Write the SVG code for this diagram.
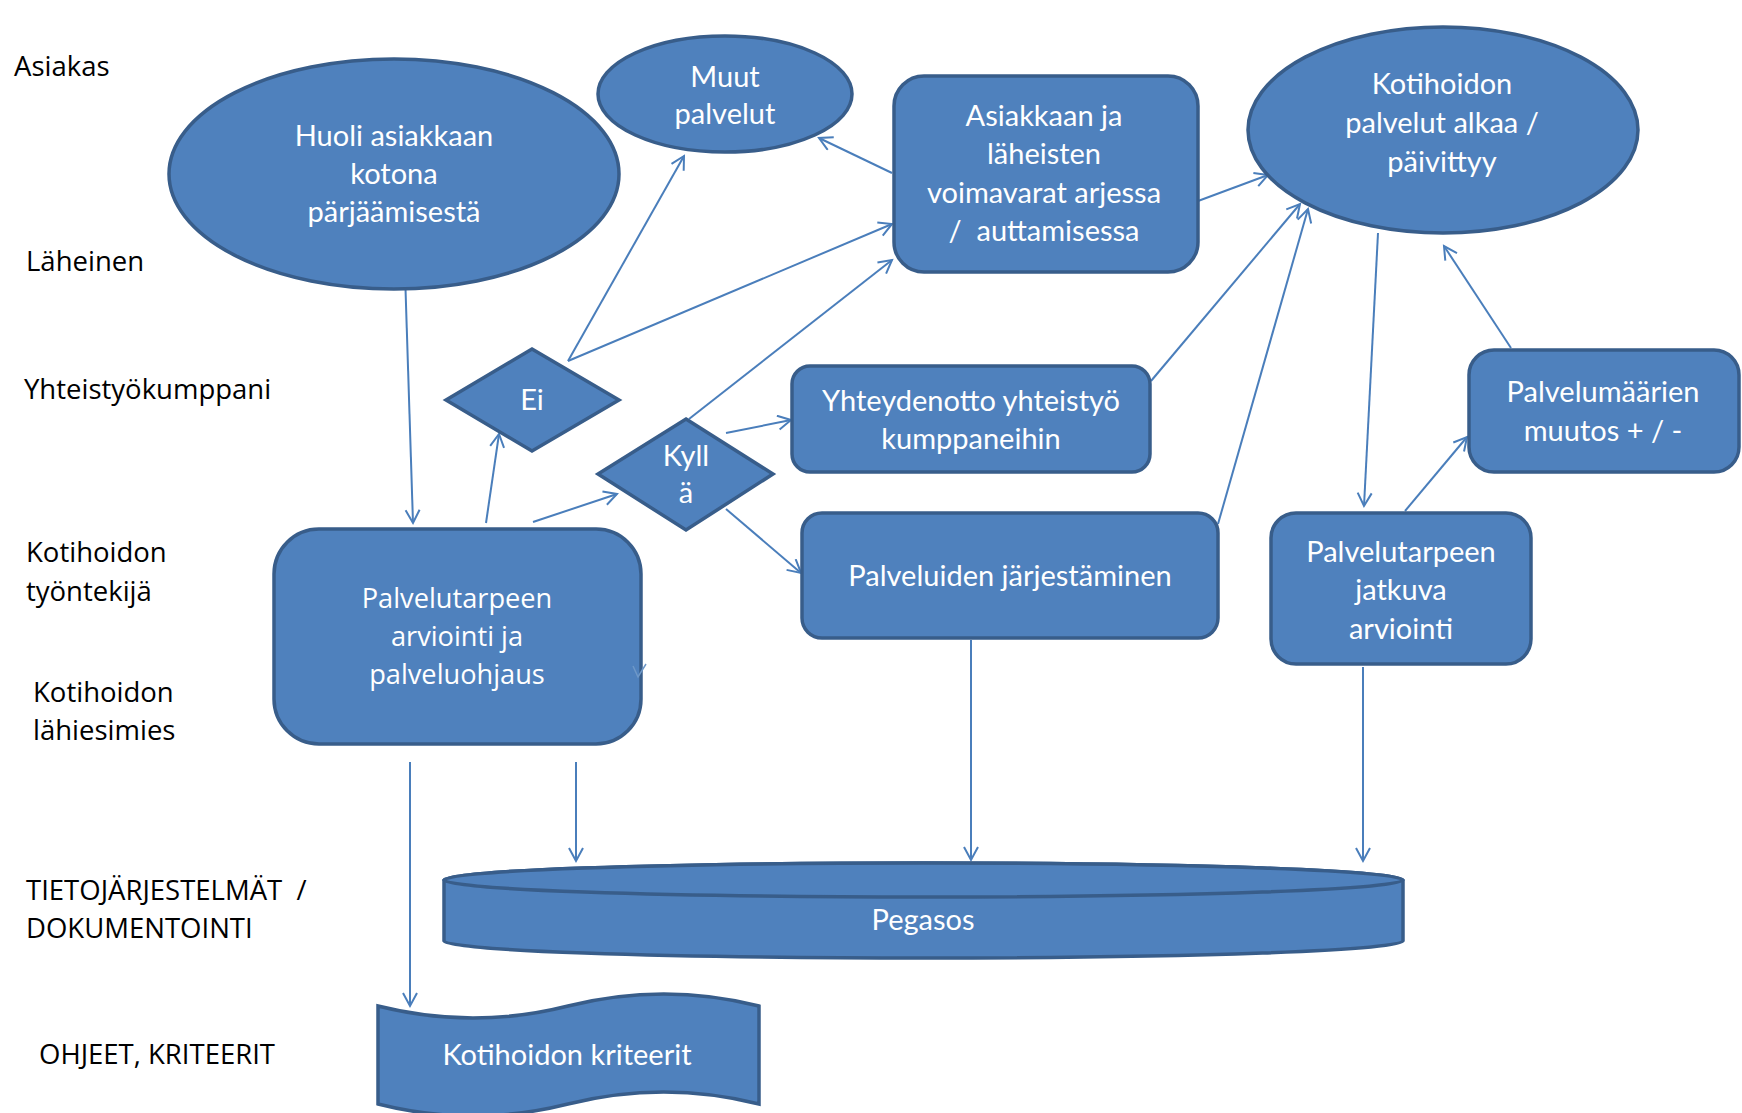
<svg xmlns="http://www.w3.org/2000/svg" width="1742" height="1113" viewBox="0 0 1742 1113">
<style>
.shape{fill:#4F81BD;stroke:#385D8A;stroke-width:3.5}
.lbl{font-family:"Open Sans","DejaVu Sans",sans-serif;font-size:27.5px;fill:#000;white-space:pre}
.nt{font-family:Lato,"Liberation Sans",sans-serif;font-size:29px;fill:#fff;text-anchor:middle}
.nt2{font-family:"Open Sans","DejaVu Sans",sans-serif;font-size:27.2px;fill:#fff;text-anchor:middle}
.conn{stroke:#4A7EBB;stroke-width:2;fill:none}
</style>
<defs>
<marker id="arr" markerUnits="userSpaceOnUse" markerWidth="18" markerHeight="18" refX="15" refY="8" orient="auto">
<path d="M2,1 L15,8 L2,15" fill="none" stroke="#4A7EBB" stroke-width="2"/>
</marker>
</defs>
<rect width="1742" height="1113" fill="#fff"/>
<g id="lane-labels">
<text class="lbl" x="14" y="76">Asiakas</text>
<text class="lbl" x="26" y="271">Läheinen</text>
<text class="lbl" x="24" y="399">Yhteistyökumppani</text>
<text class="lbl" x="26" y="562">Kotihoidon</text>
<text class="lbl" x="26" y="601">työntekijä</text>
<text class="lbl" x="33" y="702">Kotihoidon</text>
<text class="lbl" x="33" y="740">lähiesimies</text>
<text class="lbl" x="26" y="900">TIETOJÄRJESTELMÄT  /</text>
<text class="lbl" x="26" y="938">DOKUMENTOINTI</text>
<text class="lbl" x="39" y="1064">OHJEET, KRITEERIT</text>
</g>
<g id="connectors">
<line class="conn" x1="404" y1="242" x2="413" y2="523" marker-end="url(#arr)"/>
<line class="conn" x1="486" y1="523" x2="499" y2="434" marker-end="url(#arr)"/>
<line class="conn" x1="568" y1="361" x2="684" y2="156" marker-end="url(#arr)"/>
<line class="conn" x1="568" y1="361" x2="892" y2="224" marker-end="url(#arr)"/>
<line class="conn" x1="533" y1="522" x2="617" y2="494" marker-end="url(#arr)"/>
<line class="conn" x1="689" y1="419" x2="892" y2="260" marker-end="url(#arr)"/>
<line class="conn" x1="726" y1="433" x2="791" y2="420" marker-end="url(#arr)"/>
<line class="conn" x1="726" y1="509" x2="801" y2="573" marker-end="url(#arr)"/>
<line class="conn" x1="892" y1="173" x2="819" y2="138" marker-end="url(#arr)"/>
<line class="conn" x1="1198" y1="201" x2="1268" y2="175" marker-end="url(#arr)"/>
<line class="conn" x1="1151" y1="381" x2="1300" y2="204" marker-end="url(#arr)"/>
<line class="conn" x1="1218" y1="524" x2="1308" y2="209" marker-end="url(#arr)"/>
<line class="conn" x1="1378" y1="233" x2="1364" y2="506" marker-end="url(#arr)"/>
<line class="conn" x1="1511" y1="348" x2="1444" y2="246" marker-end="url(#arr)"/>
<line class="conn" x1="1405" y1="511" x2="1467" y2="437" marker-end="url(#arr)"/>
<line class="conn" x1="971" y1="640" x2="971" y2="860" marker-end="url(#arr)"/>
<line class="conn" x1="1363" y1="667" x2="1363" y2="861" marker-end="url(#arr)"/>
<line class="conn" x1="576" y1="762" x2="576" y2="861" marker-end="url(#arr)"/>
<line class="conn" x1="410" y1="762" x2="410" y2="1006" marker-end="url(#arr)"/>
</g>
<g id="huoli">
<ellipse class="shape" cx="394" cy="174" rx="225" ry="115"/>
<text class="nt" x="394" y="146">Huoli asiakkaan</text>
<text class="nt" x="394" y="184">kotona</text>
<text class="nt" x="394" y="222">pärjäämisestä</text>
</g>
<g id="muut">
<ellipse class="shape" cx="725" cy="94" rx="127" ry="58"/>
<text class="nt" x="725" y="87">Muut</text>
<text class="nt" x="725" y="124">palvelut</text>
</g>
<g id="asiakkaan">
<rect class="shape" x="894" y="76" width="304" height="196" rx="30"/>
<text class="nt" x="1044" y="126">Asiakkaan ja</text>
<text class="nt" x="1044" y="164">läheisten</text>
<text class="nt" x="1044" y="203">voimavarat arjessa</text>
<text class="nt" x="1044" y="241" style="white-space:pre">/  auttamisessa</text>
</g>
<g id="kotihoidon-alkaa">
<ellipse class="shape" cx="1443" cy="130" rx="195" ry="103"/>
<text class="nt" x="1442" y="94">Kotihoidon</text>
<text class="nt" x="1442" y="133">palvelut alkaa /</text>
<text class="nt" x="1442" y="172">päivittyy</text>
</g>
<g id="ei">
<polygon class="shape" points="532,349 619,400 532,451 446,400"/>
<text class="nt" x="532" y="410">Ei</text>
</g>
<g id="kylla">
<polygon class="shape" points="686,419 773,474 686,530 598,474"/>
<text class="nt" x="686" y="466">Kyll</text>
<text class="nt" x="686" y="503">ä</text>
</g>
<g id="yhteydenotto">
<rect class="shape" x="792" y="366" width="358" height="106" rx="18"/>
<text class="nt" x="971" y="411">Yhteydenotto yhteistyö</text>
<text class="nt" x="971" y="449">kumppaneihin</text>
</g>
<g id="palveluiden">
<rect class="shape" x="802" y="513" width="416" height="125" rx="20"/>
<text class="nt" x="1010" y="586">Palveluiden järjestäminen</text>
</g>
<g id="palvelutarpeen-arviointi">
<rect class="shape" x="274" y="529" width="367" height="215" rx="45"/>
<text class="nt2" x="457" y="608">Palvelutarpeen</text>
<text class="nt2" x="457" y="646">arviointi ja</text>
<text class="nt2" x="457" y="684">palveluohjaus</text>
<path d="M633,666 L638,677 L646,664" fill="none" stroke="#6E98C8" stroke-width="1.5"/>
</g>
<g id="jatkuva">
<rect class="shape" x="1271" y="513" width="260" height="151" rx="25"/>
<text class="nt" x="1401" y="562">Palvelutarpeen</text>
<text class="nt" x="1401" y="600">jatkuva</text>
<text class="nt" x="1401" y="639">arviointi</text>
</g>
<g id="palvelumaarien">
<rect class="shape" x="1469" y="350" width="270" height="122" rx="25"/>
<text class="nt" x="1603" y="402">Palvelumäärien</text>
<text class="nt" x="1603" y="441">muutos + / -</text>
</g>
<g id="pegasos">
<path class="shape" d="M444,880 A479.5,17 0 0 1 1403,880 L1403,941 A479.5,17 0 0 1 444,941 Z"/>
<ellipse class="shape" cx="923.5" cy="880" rx="479.5" ry="17"/>
<text class="nt" x="923" y="930">Pegasos</text>
</g>
<g id="kriteerit">
<path class="shape" d="M378,1006 Q473,1030 568,1006 Q664,982 759,1006 L759,1104 Q664,1080 568,1104 Q473,1128 378,1104 Z"/>
<text class="nt" x="567" y="1065">Kotihoidon kriteerit</text>
</g>
</svg>
